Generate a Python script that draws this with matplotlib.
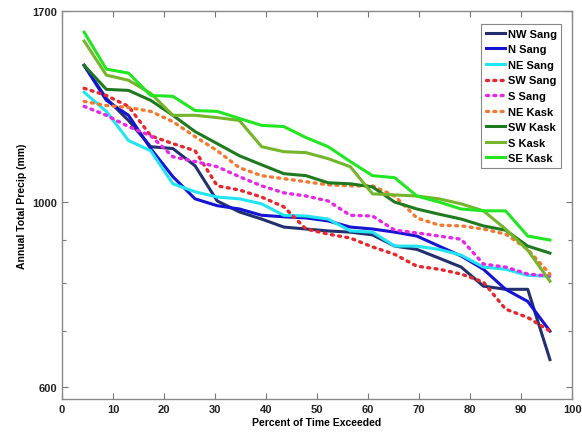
import numpy as np
import matplotlib
matplotlib.use("Agg")
import matplotlib.pyplot as plt
from matplotlib.ticker import FixedLocator, NullFormatter, FixedFormatter

# exceedance positions: rank / (n + 1) for 22 years
n_years = 22
percent = [100.0 * i / (n_years + 1) for i in range(1, n_years + 1)]

# annual totals (mm)
nw_sang = [1462, 1334, 1255, 1167, 1161, 1107, 1004, 974, 955, 934, 929,
           924, 921, 914, 886, 878, 857, 836, 793, 786, 786, 647]
n_sang = [1462, 1327, 1273, 1161, 1074, 1010, 991, 982, 965, 961, 958,
          950, 934, 929, 921, 911, 886, 862, 831, 786, 760, 700]
ne_sang = [1357, 1287, 1187, 1154, 1053, 1030, 1015, 1010, 996, 965, 963,
           955, 924, 921, 886, 886, 878, 864, 836, 831, 817, 815]
sw_sang = [1372, 1345, 1305, 1203, 1177, 1154, 1047, 1035, 1015, 988, 929,
           916, 906, 884, 866, 838, 831, 820, 802, 744, 727, 700]
s_sang = [1305, 1273, 1234, 1203, 1135, 1120, 1104, 1074, 1047, 1027, 1018,
          1004, 965, 963, 926, 919, 911, 903, 843, 836, 820, 815]
ne_kask = [1323, 1308, 1301, 1287, 1251, 1200, 1154, 1101, 1077, 1068, 1059,
           1050, 1047, 1047, 1018, 958, 939, 937, 929, 916, 878, 820]
sw_kask = [1462, 1368, 1364, 1327, 1273, 1217, 1177, 1138, 1110, 1083, 1077,
           1056, 1053, 1044, 1001, 982, 968, 955, 937, 926, 886, 869]
s_kask = [1564, 1423, 1403, 1353, 1273, 1273, 1265, 1255, 1167, 1151, 1148,
          1129, 1104, 1024, 1021, 1018, 1010, 996, 977, 929, 876, 804]
se_kask = [1603, 1447, 1431, 1345, 1342, 1290, 1287, 1262, 1238, 1234, 1197,
           1167, 1120, 1077, 1071, 1018, 1001, 982, 977, 977, 911, 901]

labels = ["NW Sang", "N Sang", "NE Sang", "SW Sang", "S Sang",
          "NE Kask", "SW Kask", "S Kask", "SE Kask"]
series = [nw_sang, n_sang, ne_sang, sw_sang, s_sang,
          ne_kask, sw_kask, s_kask, se_kask]
colors = ["#23306f", "#1414d2", "#22e4f2", "#e8262c", "#e826e8",
          "#f27a30", "#1f7a1f", "#74b52a", "#22e622"]
styles = ["-", "-", "-", ":", ":", ":", "-", "-", "-"]

yticks = [600, 1000, 1700]
yminor = [700, 800, 900]
xticks = list(range(0, 101, 10))

plt.rcParams["font.family"] = ["Liberation Sans", "DejaVu Sans"]
plt.rcParams["font.weight"] = "bold"

fig = plt.figure(figsize=(5.82, 4.35), dpi=100)
ax = fig.add_axes([0.1065, 0.0805, 0.8765, 0.892])

for vals, lab, col, ls in zip(series, labels, colors, styles):
    if ls == ":":
        ax.plot(percent, vals, color=col, linestyle=(0, (0.6, 1.6)),
                linewidth=2.4, dash_capstyle="round", label=lab)
    else:
        ax.plot(percent, vals, color=col, linestyle=ls, linewidth=2.2,
                label=lab)

ax.set_yscale("log")
ax.set_xlim(0, 100)
ax.set_ylim(580, 1700)

ax.yaxis.set_major_locator(FixedLocator(yticks))
ax.yaxis.set_major_formatter(FixedFormatter([str(t) for t in yticks]))
ax.yaxis.set_minor_locator(FixedLocator(yminor))
ax.yaxis.set_minor_formatter(NullFormatter())
ax.set_xticks(xticks)

ax.tick_params(which="both", direction="in", top=True, right=True,
               colors="#777777", labelcolor="#222222", labelsize=8, length=4,
               width=0.8)
ax.tick_params(which="minor", length=3)
for sp in ax.spines.values():
    sp.set_color("#888888")
    sp.set_linewidth(1.0)

ax.set_xlabel("Percent of Time Exceeded", fontsize=7.5, fontweight="bold",
              labelpad=2)
ax.set_ylabel("Annual Total Precip (mm)", fontsize=7.5, fontweight="bold",
              labelpad=4)

leg = ax.legend(loc="upper right", bbox_to_anchor=(0.99, 0.98), fontsize=8,
                handlelength=1.7, handletextpad=0.3, borderpad=0.4,
                labelspacing=0.5, fancybox=False, framealpha=1)
leg.get_frame().set_edgecolor("#888888")
leg.get_frame().set_linewidth(0.8)

fig.savefig("out.png", dpi=100)
